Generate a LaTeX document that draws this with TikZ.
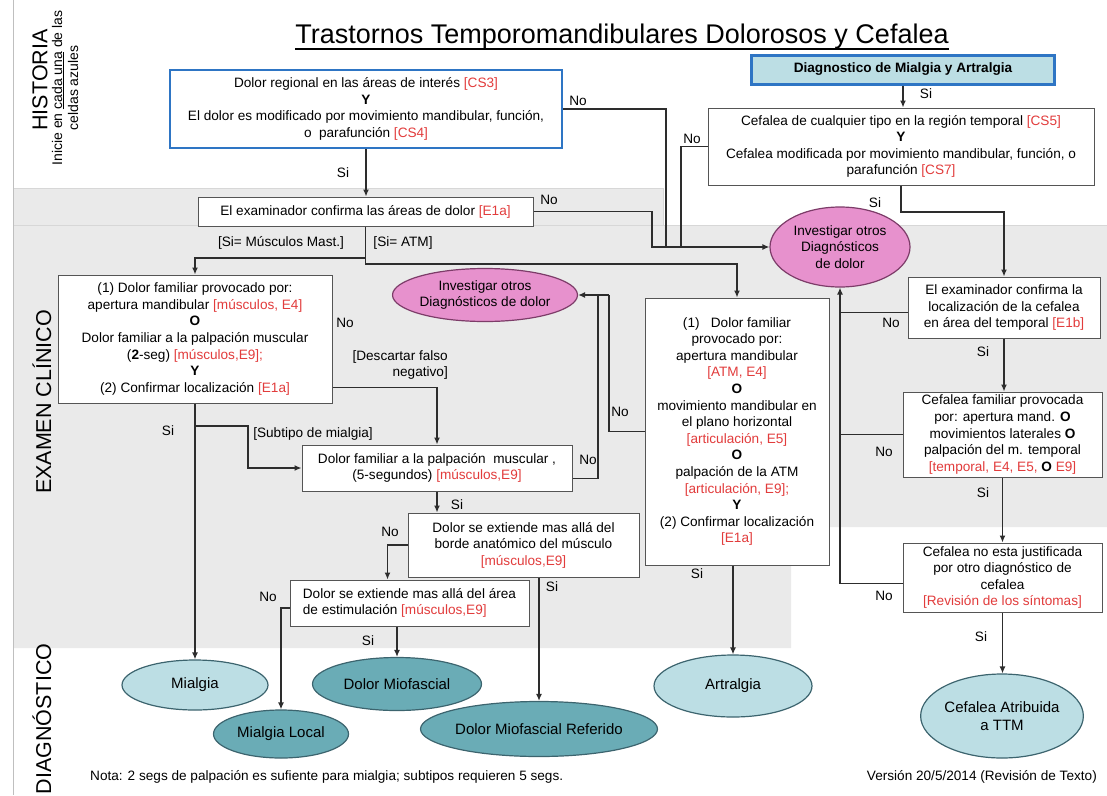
\documentclass[tikz,border=0pt]{standalone}
\usepackage{fontspec}
\setmainfont{Liberation Sans}
\usepackage{tikz}
\usetikzlibrary{positioning, arrows.meta, shapes.geometric}

\definecolor{tmblue}{RGB}{46,117,196}
\definecolor{tmred}{RGB}{226,60,60}
\definecolor{tmpink}{RGB}{231,145,205}
\definecolor{pinkline}{RGB}{125,60,105}
\definecolor{teallight}{RGB}{188,222,228}
\definecolor{tealmid}{RGB}{106,172,182}
\definecolor{tealline}{RGB}{60,100,110}
\definecolor{boxline}{RGB}{85,85,85}
\definecolor{connline}{RGB}{45,45,45}
\definecolor{panelgray}{RGB}{234,234,234}
\definecolor{panelline}{RGB}{215,215,215}

\newcommand{\rd}[1]{\textcolor{tmred}{#1}}
\newcommand{\boxfont}{\fontsize{13.6}{16.6}\selectfont}
\newcommand{\ellfont}{\fontsize{15}{18}\selectfont}
\newcommand{\sidefont}{\fontsize{21.5}{24}\selectfont}

\begin{document}
\begin{tikzpicture}[x=1pt, y=-1pt, >={Latex[length=7pt,width=6pt]},
	box/.style={draw=boxline, fill=white, line width=1pt, align=center, font=\boxfont, inner sep=0pt},
	bluebox/.style={box, draw=tmblue, line width=2.5pt},
	pinkell/.style={ellipse, draw=pinkline, fill=tmpink, line width=1.2pt, align=center, inner sep=0pt, font=\boxfont},
	diagell/.style={ellipse, draw=tealline, line width=1.2pt, align=center, inner sep=0pt, font=\ellfont},
	lightdiag/.style={diagell, fill=teallight},
	darkdiag/.style={diagell, fill=tealmid},
	conn/.style={draw=connline, line width=1.3pt},
	flow/.style={conn, ->},
	lbl/.style={font=\boxfont, inner sep=1pt},
	side/.style={rotate=90, font=\sidefont}]
	
	\useasboundingbox (0,0) rectangle (1107,795);
	
	% Background bands
	\fill[panelgray] (14,188) rectangle (663,225);
	\fill[panelgray] (14,225) -- (1107,225) -- (1107,527) -- (791,527) -- (791,648) -- (14,648) -- cycle;
	\draw[panelline] (14,188) -- (663,188) -- (663,225);
	\draw[panelline] (14,225) -- (1107,225);
	\draw[gray!50, line width=1pt] (13,0) -- (13,795);
	
	% Title and side labels
	\node[inner sep=0pt] (title) at (622,37) {\fontsize{27}{30}\selectfont Trastornos Temporomandibulares Dolorosos y Cefalea};
	\draw[line width=1.5pt] ([yshift=-5pt]title.base west) -- ([yshift=-5pt]title.base east);
	\node[side] (histlbl) at (40,80) {HISTORIA};
	\node[side] (exlbl) at (42,402) {EXAMEN CLÍNICO};
	\node[side] (diaglbl) at (42,719) {DIAGNÓSTICO};
	\node[rotate=90, align=center, font=\fontsize{14}{16}\selectfont] (inicie) at (65,88) {Inicie en \underline{cada una} de las\\celdas azules};
	
	% Define nodes
	\node[bluebox, minimum width=392pt, minimum height=78pt] (hist) at (366,109) {Dolor regional en las áreas de interés \rd{[CS3]}\\\textbf{Y}\\El dolor es modificado por movimiento mandibular, función,\\o\ \ parafunción \rd{[CS4]}};
	\node[bluebox, fill=teallight, line width=3pt, minimum width=303pt, minimum height=29pt, font=\boxfont\bfseries] (diag) at (903,69.5) {Diagnostico de Mialgia y Artralgia};
	\node[box, minimum width=386pt, minimum height=77pt] (cs5) at (901,146.5) {Cefalea de cualquier tipo en la región temporal \rd{[CS5]}\\\textbf{Y}\\Cefalea modificada por movimiento mandibular, función, o\\parafunción \rd{[CS7]}};
	\node[box, minimum width=335pt, minimum height=29pt] (e1a) at (365.5,211.5) {El examinador confirma las áreas de dolor \rd{[E1a]}};
	\node[box, minimum width=274pt, minimum height=128pt] (mus) at (195,339) {(1) Dolor familiar provocado por:\\apertura mandibular \rd{[músculos, E4]}\\\textbf{O}\\Dolor familiar a la palpación muscular\\(\textbf{2}-seg) \rd{[músculos,E9];}\\\textbf{Y}\\(2) Confirmar localización \rd{[E1a]}};
	\node[pinkell, minimum width=174pt, minimum height=53pt] (inv1) at (485,295) {Investigar otros\\Diagnósticos de dolor};
	\node[pinkell, minimum width=140pt, minimum height=80pt] (inv2) at (840,247) {Investigar otros\\Diagnósticos\\de dolor};
	\node[box, minimum width=184pt, minimum height=267pt] (atm) at (737,431.5) {(1)\ \ \ Dolor familiar\\provocado por:\\apertura mandibular\\\rd{[ATM, E4]}\\\textbf{O}\\movimiento mandibular en\\el plano horizontal\\\rd{[articulación, E5]}\\\textbf{O}\\palpación de la ATM\\\rd{[articulación, E9];}\\\textbf{Y}\\(2) Confirmar localización\\\rd{[E1a]}};
	\node[box, minimum width=192pt, minimum height=61pt] (e1b) at (1004,307.5) {El examinador confirma la\\localización de la cefalea\\en área del temporal \rd{[E1b]}};
	\node[box, minimum width=199pt, minimum height=85pt] (fam) at (1002.5,434.5) {Cefalea familiar provocada\\por: apertura mand. \textbf{O}\\movimientos laterales \textbf{O}\\palpación del m. temporal\\\rd{[temporal, E4, E5,} \textbf{O} \rd{E9]}};
	\node[box, minimum width=199pt, minimum height=69pt] (jus) at (1002.5,577.5) {Cefalea no esta justificada\\por otro diagnóstico de\\cefalea\\\rd{[Revisión de los síntomas]}};
	\node[box, minimum width=270pt, minimum height=46pt] (palp) at (437,468) {Dolor familiar a la palpación\ \ muscular ,\\(5-segundos) \rd{[músculos,E9]}};
	\node[box, minimum width=231pt, minimum height=64pt] (ext1) at (523.5,545) {Dolor se extiende mas allá del\\borde anatómico del músculo\\\rd{[músculos,E9]}};
	\node[box, minimum width=239pt, minimum height=46pt, align=left] (ext2) at (409.5,603) {Dolor se extiende mas allá del área\\de estimulación \rd{[músculos,E9]}};
	
	% Diagnoses
	\node[lightdiag, minimum width=146pt, minimum height=50pt] (mialgia) at (195,685) {Mialgia};
	\node[darkdiag, minimum width=135pt, minimum height=48pt] (mlocal) at (281,734) {Mialgia Local};
	\node[darkdiag, minimum width=169pt, minimum height=53pt] (miof) at (397,684) {Dolor Miofascial};
	\node[darkdiag, minimum width=182pt, minimum height=55pt] (mref) at (539,729) {Dolor Miofascial Referido};
	\node[lightdiag, minimum width=158pt, minimum height=62pt] (artr) at (733,686) {Artralgia};
	\node[lightdiag, minimum width=150pt, minimum height=84pt] (cefttm) at (1002,716) {Cefalea Atribuida\\a TTM};
	
	% Junctions
	\coordinate (noA) at (666,247);
	\coordinate (noB) at (652,247);
	\coordinate (noC) at (681,247);
	\coordinate (siK) at (901,212);
	\coordinate (splitA) at (365.5,264);
	\coordinate (splitM) at (365.5,258);
	\coordinate (subA) at (195,426);
	\coordinate (subB) at (248,426);
	\coordinate (retP) at (598,295);
	\coordinate (retA) at (609,295);
	
	% Arrows: history part
	\draw[flow] (hist.south) -- (hist.south |- e1a.north);
	\draw[flow] (diag.south) -- (diag.south |- cs5.north);
	\draw[conn] (hist.east) -| (noA);
	\draw[conn] (cs5.west) -| (noC);
	\draw[flow] (e1a.east) -| (noB) -- (inv2.west);
	\draw[flow] (cs5.south) -- (siK) -| (e1b.north);
	\draw[flow] (e1a.south) -- (splitA) -| (atm.north);
	\draw[flow] (splitM) -| (mus.north);
	
	% Arrows: muscle branch
	\draw[flow] ([yshift=16pt]mus.south east) -| (palp.north);
	\draw[flow] (mus.south) -- (mialgia.north);
	\draw[flow] (subA) -- (subB) |- (palp.west);
	\draw[conn] ([yshift=13pt]palp.south east) -| (retP);
	\draw[conn] (atm.west) -| (retA);
	\draw[flow] (retA) -- (inv1.east);
	\draw[flow] (palp.south) -- (palp.south |- ext1.north);
	\draw[flow] (ext1.west) -| ([xshift=-22pt]ext2.north);
	\draw[flow] (mref.north |- ext1.south) -- (mref.north);
	\draw[flow] (miof.north |- ext2.south) -- (miof.north);
	\draw[flow] ([yshift=-5pt]ext2.west) -| (mlocal.north);
	\draw[flow] (artr.north |- atm.south) -- (artr.north);
	
	% Arrows: headache branch
	\draw[conn] ([yshift=-5pt]e1b.west) -- ([yshift=-5pt]e1b.west -| inv2.south);
	\draw[conn] (fam.west) -- (fam.west -| inv2.south);
	\draw[flow] ([yshift=-6pt]jus.west) -| (inv2.south);
	\draw[flow] (e1b.south) -- (e1b.south |- fam.north);
	\draw[flow] (fam.south) -- (fam.south |- jus.north);
	\draw[flow] (jus.south) -- (jus.south |- cefttm.north);
	
	% Labels
	\node[lbl] (lbA) at (578,101) {No};
	\node[lbl] (lbB) at (343,173) {Si};
	\node[lbl] (lbC) at (926,94) {Si};
	\node[lbl] (lbD) at (692,139) {No};
	\node[lbl] (lbE) at (549,200) {No};
	\node[lbl] (lbF) at (875,203) {Si};
	\node[lbl] (lbG) at (281,243) {[Si= Músculos Mast.]};
	\node[lbl] (lbH) at (403,243) {[Si= ATM]};
	\node[lbl] (lbI) at (345,323) {No};
	\node[lbl, align=right, anchor=east] (lbJ) at (449,365) {[Descartar falso\\negativo]};
	\node[lbl] (lbK) at (168,431) {Si};
	\node[lbl] (lbL) at (313,434) {[Subtipo de mialgia]};
	\node[lbl] (lbM) at (457,505) {Si};
	\node[lbl] (lbN) at (390,532) {No};
	\node[lbl] (lbO) at (268,597) {No};
	\node[lbl] (lbP) at (368,641) {Si};
	\node[lbl] (lbQ) at (552,587) {Si};
	\node[lbl] (lbR) at (588,460) {No};
	\node[lbl] (lbS) at (620,412) {No};
	\node[lbl] (lbT) at (697,574) {Si};
	\node[lbl] (lbU) at (891,323) {No};
	\node[lbl] (lbV) at (983,352) {Si};
	\node[lbl] (lbW) at (884,452) {No};
	\node[lbl] (lbX) at (983,493) {Si};
	\node[lbl] (lbY) at (884,596) {No};
	\node[lbl] (lbZ) at (981,637) {Si};
	
	% Footer
	\node[lbl, anchor=west] (nota) at (89,777) {Nota: 2 segs de palpación es sufiente para mialgia; subtipos requieren 5 segs.};
	\node[lbl, anchor=east] (version) at (1098,777) {Versión 20/5/2014 (Revisión de Texto)};
	
\end{tikzpicture}
\end{document}
